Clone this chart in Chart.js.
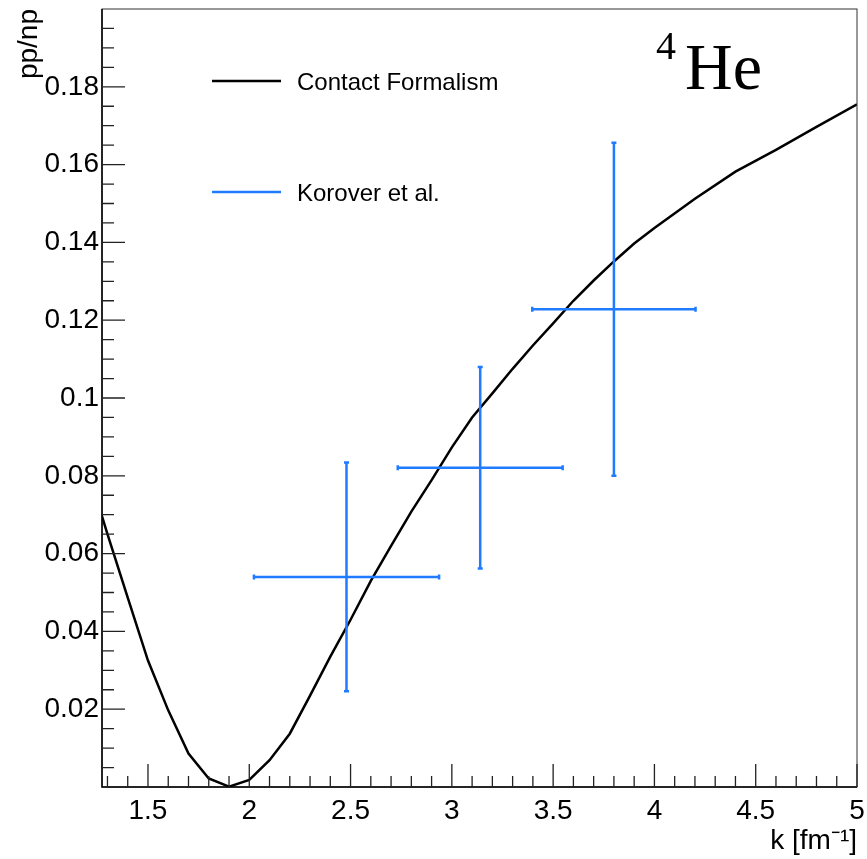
<!DOCTYPE html>
<html lang="en">
	<head>
		<meta charset="utf-8" />
		<title>pp/np ratio, 4He</title>
		<script src="https://cdn.jsdelivr.net/npm/chart.js"></script>
		<style>
			body { margin: 0; background: #fff; }
			.graphic { width: 867px; height: 859px; }
		</style>
	</head>
	<body>
		<div class="graphic">
			<canvas id="myChart" width="867" height="859"></canvas>
		</div>
		<script>
			// curve: contact formalism
			const kCurve = [1.2, 1.3, 1.4, 1.5, 1.6, 1.7, 1.8, 1.9, 2.0, 2.1, 2.2, 2.3, 2.4, 2.5, 2.6, 2.7, 2.8, 2.9,
				3.0, 3.1, 3.2, 3.3, 3.4, 3.5, 3.6, 3.7, 3.8, 3.9, 4.0, 4.2, 4.4, 4.6, 4.8, 5.0];
			const ratioCurve = [0.082, 0.065, 0.0487, 0.0325, 0.0197, 0.0086, 0.0022, 0.0001, 0.0018, 0.0069, 0.0137,
				0.0235, 0.0335, 0.043, 0.053, 0.062, 0.0708, 0.0789, 0.0873, 0.095, 0.1012, 0.1075, 0.1135, 0.1192,
				0.125, 0.1302, 0.1351, 0.1397, 0.1437, 0.1512, 0.1582, 0.1638, 0.1697, 0.1755];

			// data points: Korover et al.
			const kData = [2.48, 3.14, 3.80];
			const kErr = [0.457, 0.407, 0.403];
			const ratioData = [0.054, 0.0821, 0.1228];
			const ratioErr = [0.0294, 0.0259, 0.0428];

			// tick labels
			const xTicks = [1.5, 2, 2.5, 3, 3.5, 4, 4.5, 5];
			const yTicks = [0.02, 0.04, 0.06, 0.08, 0.1, 0.12, 0.14, 0.16, 0.18];

			const BLUE = '#1f7bff';
			const SANS = '"Liberation Sans", Arial, Helvetica, sans-serif';

			// ROOT-like frame, inside ticks, legend, label, error bars
			const rootStyle = {
				id: 'rootStyle',
				afterDatasetsDraw(chart) {
					const ctx = chart.ctx, xs = chart.scales.x, ys = chart.scales.y;
					ctx.save();
					ctx.strokeStyle = BLUE;
					ctx.lineWidth = 2.5;
					for (let i = 0; i < kData.length; i++) {
						const px = xs.getPixelForValue(kData[i]);
						const py = ys.getPixelForValue(ratioData[i]);
						const x1 = xs.getPixelForValue(kData[i] - kErr[i]);
						const x2 = xs.getPixelForValue(kData[i] + kErr[i]);
						const y1 = ys.getPixelForValue(ratioData[i] + ratioErr[i]);
						const y2 = ys.getPixelForValue(ratioData[i] - ratioErr[i]);
						ctx.beginPath();
						ctx.moveTo(x1, py); ctx.lineTo(x2, py);
						ctx.moveTo(px, y1); ctx.lineTo(px, y2);
						// small caps
						ctx.moveTo(x1, py - 2.5); ctx.lineTo(x1, py + 2.5);
						ctx.moveTo(x2, py - 2.5); ctx.lineTo(x2, py + 2.5);
						ctx.moveTo(px - 2.5, y1); ctx.lineTo(px + 2.5, y1);
						ctx.moveTo(px - 2.5, y2); ctx.lineTo(px + 2.5, y2);
						ctx.stroke();
					}
					ctx.restore();
				},
				afterDraw(chart) {
					const ctx = chart.ctx, a = chart.chartArea;
					const xs = chart.scales.x, ys = chart.scales.y;
					ctx.save();

					// frame
					ctx.strokeStyle = '#333';
					ctx.lineWidth = 1;
					ctx.strokeRect(a.left, a.top, a.right - a.left, a.bottom - a.top);
					ctx.strokeStyle = '#000';
					ctx.lineWidth = 1.5;
					ctx.beginPath();
					ctx.moveTo(a.left, a.top); ctx.lineTo(a.left, a.bottom); ctx.lineTo(a.right, a.bottom);
					ctx.stroke();

					// ticks inside the frame
					ctx.strokeStyle = '#222';
					ctx.lineWidth = 1.3;
					ctx.beginPath();
					for (let i = 3; i <= 50; i++) {
						const v = i / 10;
						if (v <= xs.min) continue;
						const p = xs.getPixelForValue(v);
						const len = (i % 5 === 0) ? 23 : 11;
						ctx.moveTo(p, a.bottom); ctx.lineTo(p, a.bottom - len);
					}
					for (let i = 1; i < 40; i++) {
						const p = ys.getPixelForValue(i * 0.005);
						const len = (i % 4 === 0) ? 23 : 12;
						ctx.moveTo(a.left, p); ctx.lineTo(a.left + len, p);
					}
					ctx.stroke();

					// legend
					const entries = [{ y: 81 }, { y: 192 }];
					ctx.font = '24px ' + SANS;
					ctx.textBaseline = 'alphabetic';
					ctx.fillStyle = '#000';
					chart.data.datasets.forEach((ds, i) => {
						const ly = entries[i].y;
						ctx.strokeStyle = ds.borderColor;
						ctx.lineWidth = 2.5;
						ctx.beginPath();
						ctx.moveTo(212, ly); ctx.lineTo(281, ly);
						ctx.stroke();
						ctx.fillText(ds.label, 297, ly + 9);
					});

					// nucleus label
					ctx.fillStyle = '#000';
					ctx.font = '40px "Liberation Serif", "Times New Roman", serif';
					ctx.fillText('4', 656, 59);
					ctx.font = '66px "Liberation Serif", "Times New Roman", serif';
					ctx.fillText('He', 685, 89);
					ctx.restore();
				}
			};

			const tickFont = { family: SANS, size: 28 };

			const config = {
				type: 'scatter',
				data: {
					datasets: [
						{
							label: 'Contact Formalism',
							data: kCurve.map((k, i) => ({ x: k, y: ratioCurve[i] })),
							showLine: true,
							borderColor: '#000',
							borderWidth: 2.5,
							pointRadius: 0,
							tension: 0,
							clip: 0
						},
						{
							label: 'Korover et al.',
							data: kData.map((k, i) => ({ x: k, y: ratioData[i] })),
							borderColor: BLUE,
							backgroundColor: BLUE,
							pointRadius: 0
						}
					]
				},
				options: {
					responsive: false,
					animation: false,
					layout: { padding: { left: 0, right: 10, top: 9, bottom: 0 } },
					plugins: {
						legend: { display: false },
						tooltip: { enabled: false }
					},
					scales: {
						x: {
							type: 'linear',
							min: 1.273,
							max: 5,
							grid: { display: false, drawTicks: false, tickLength: 0 },
							border: { display: false },
							afterBuildTicks: s => { s.ticks = xTicks.map(v => ({ value: v })); },
							ticks: {
								font: tickFont, color: '#000', padding: 7,
								maxRotation: 0, minRotation: 0, autoSkip: false,
								callback: v => String(v)
							},
							title: {
								display: true, text: 'k [fm⁻¹]', align: 'end', color: '#000',
								font: { family: SANS, size: 28 }, padding: { top: 0, bottom: 1 }
							},
							afterFit: s => { s.height = 72; s.paddingLeft = 0; s.paddingRight = 0; }
						},
						y: {
							type: 'linear',
							min: 0,
							max: 0.2,
							grid: { display: false, drawTicks: false, tickLength: 0 },
							border: { display: false },
							afterBuildTicks: s => { s.ticks = yTicks.map(v => ({ value: v })); },
							ticks: {
								font: tickFont, color: '#000', padding: 3, autoSkip: false,
								callback: v => String(+v.toFixed(2))
							},
							title: {
								display: true, text: 'pp/np', align: 'end', color: '#000',
								font: { family: SANS, size: 28 }, padding: { top: 12, bottom: 0 }
							},
							afterFit: s => { s.width = 102; s.paddingTop = 0; s.paddingBottom = 0; }
						}
					}
				},
				plugins: [rootStyle]
			};

			var canvas = document.getElementById('myChart');
			var chart = new Chart(canvas, config);
		</script>
	</body>
</html>
